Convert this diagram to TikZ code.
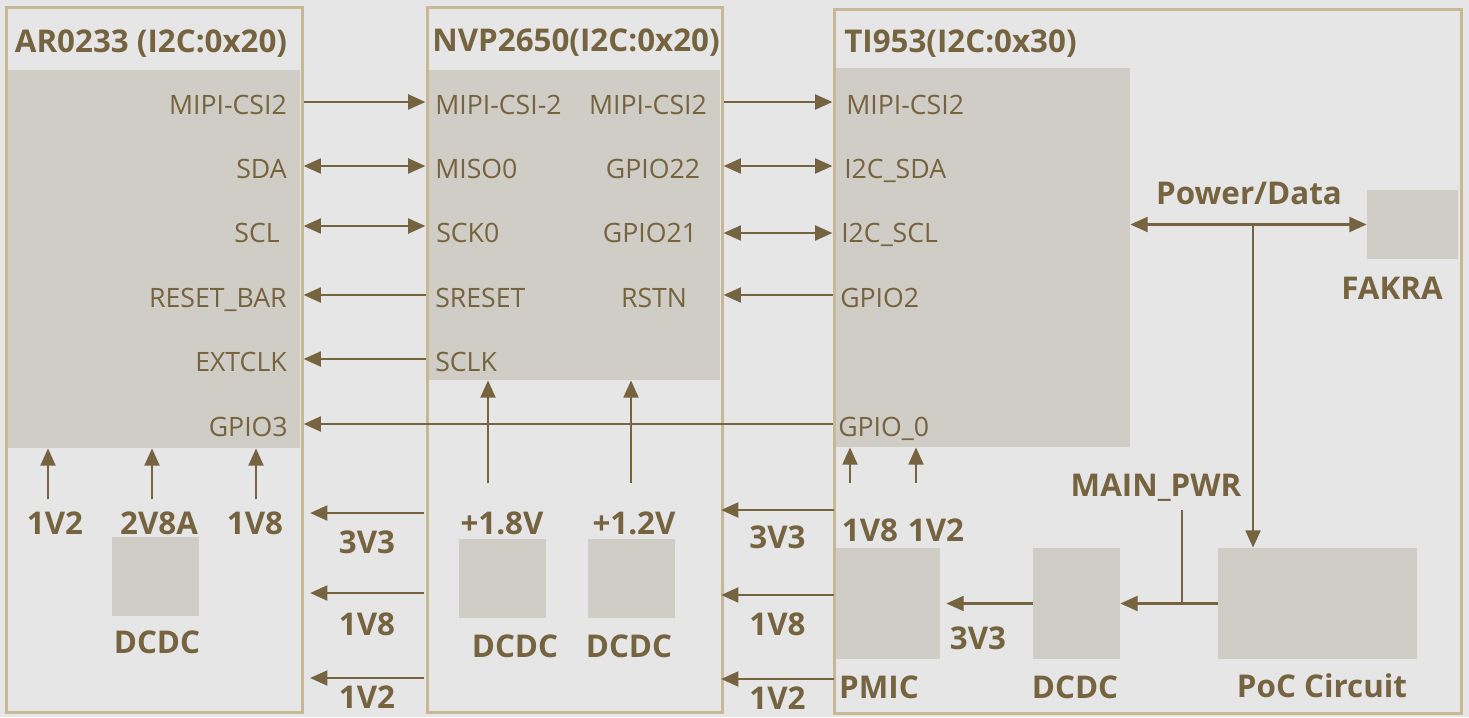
\documentclass[tikz,border=0pt]{standalone}
\usepackage{fontspec}
\setmainfont{Open Sans}
\usetikzlibrary{arrows.meta,fit,calc,positioning}
\definecolor{bgc}{HTML}{E6E6E6}
\definecolor{tan}{HTML}{C9B896}
\definecolor{chip}{HTML}{D0CDC6}
\definecolor{ink}{HTML}{76633F}
\tikzset{
  box/.style={draw=tan, line width=2.25pt, inner sep=0pt},
  pad/.style={fill=chip, inner sep=0pt},
  lbl/.style={text=ink, font=\fontsize{20}{24}\selectfont, inner sep=0pt,
    text height=19pt, text depth=0pt},
  blbl/.style={text=ink, font=\fontsize{23.5}{28}\selectfont\bfseries, inner sep=0pt,
    text height=17pt, text depth=0pt},
  wire/.style={draw=ink, line width=2.2pt},
  arr/.style={wire, -{Triangle[length=13pt,width=11pt]}},
  darr/.style={wire, {Triangle[length=13pt,width=11pt]}-{Triangle[length=13pt,width=11pt]}}
}
\begin{document}
\begin{tikzpicture}[x=0.75pt,y=-0.75pt]

  \useasboundingbox (0,0) rectangle (1469,717);
  \fill[bgc] (0,0) rectangle (1469,717);

  % chips
  \node[pad, fit={(8,70) (300,448)}] (Ain) {};
  \node[pad, fit={(429,70) (720,380)}] (Nin) {};
  \node[pad, fit={(836,68) (1130,447)}] (Tin) {};
  \node[box, fit={(6,8) (302,712)}] (A) {};
  \node[box, fit={(427,8) (722,712)}] (N) {};
  \node[box, fit={(834,10) (1461,713)}] (T) {};

  \node[blbl] (Atitle) at (151,41) {AR0233 (I2C:0x20)};
  \node[blbl] (Ntitle) at (576,40) {NVP2650(I2C:0x20)};
  \node[blbl, anchor=west] (Ttitle) at (844,41) {TI953(I2C:0x30)};

  % small blocks
  \node[pad, fit={(112,537) (199,616)}] (adc) {};
  \node[pad, fit={(459,539) (546,618)}] (ndc1) {};
  \node[pad, fit={(588,539) (675,618)}] (ndc2) {};
  \node[pad, fit={(1367,190) (1458,259)}] (fak) {};
  \node[pad, fit={(836,548) (940,659)}] (pmic) {};
  \node[pad, fit={(1033,548) (1120,659)}] (tdc) {};
  \node[pad, fit={(1218,548) (1417,659)}] (poc) {};

  \node[blbl] (adcL) at (157,642) {DCDC};
  \node[blbl] (ndc1L) at (515,646) {DCDC};
  \node[blbl] (ndc2L) at (629,646) {DCDC};
  \node[blbl] (fakL) at (1392,288) {FAKRA};
  \node[blbl] (pmicL) at (879,687) {PMIC};
  \node[blbl] (tdcL) at (1075,687) {DCDC};
  \node[blbl] (pocL) at (1322,686) {PoC Circuit};

  % pins
  \node[lbl, anchor=east] (aMipi) at (287,102) {MIPI-CSI2};
  \node[lbl, anchor=east] (aSda) at (287,166) {SDA};
  \node[lbl, anchor=east] (aScl) at (280,230) {SCL};
  \node[lbl, anchor=east] (aRst) at (287,295) {RESET\_BAR};
  \node[lbl, anchor=east] (aClk) at (287,359) {EXTCLK};
  \node[lbl, anchor=east] (aGpio) at (288,424) {GPIO3};

  \node[lbl, anchor=west] (nMipi) at (435,102) {MIPI-CSI-2};
  \node[lbl, anchor=west] (nMiso) at (435,166) {MISO0};
  \node[lbl, anchor=west] (nSck) at (436,230) {SCK0};
  \node[lbl, anchor=west] (nSrst) at (435,295) {SRESET};
  \node[lbl, anchor=west] (nSclk) at (435,359) {SCLK};
  \node[lbl] (nMipiO) at (648,102) {MIPI-CSI2};
  \node[lbl] (nG22) at (653,166) {GPIO22};
  \node[lbl] (nG21) at (650,230) {GPIO21};
  \node[lbl] (nRstn) at (654,295) {RSTN};

  \node[lbl, anchor=west] (tMipi) at (846,102) {MIPI-CSI2};
  \node[lbl, anchor=west] (tSda) at (844,166) {I2C\_SDA};
  \node[lbl, anchor=west] (tScl) at (841,230) {I2C\_SCL};
  \node[lbl, anchor=west] (tGpio2) at (840,295) {GPIO2};
  \node[lbl, anchor=west] (tGpio0) at (838,424) {GPIO\_0};

  \draw[arr] (aMipi -| A.east) -- (nMipi -| N.west);
  \draw[darr] (aSda -| A.east) -- (nMiso -| N.west);
  \draw[darr] ($(aScl -| A.east)+(0,-4)$) -- ($(nSck -| N.west)+(0,-4)$);
  \draw[arr] (nSrst -| N.west) -- (aRst -| A.east);
  \draw[arr] (nSclk -| N.west) -- (aClk -| A.east);
  \draw[arr] (tGpio0 -| T.west) -- (aGpio -| A.east);
  \draw[arr] (nMipiO -| N.east) -- (tMipi -| T.west);
  \draw[darr] (nG22 -| N.east) -- (tSda -| T.west);
  \draw[darr] ($(nG21 -| N.east)+(0,3)$) -- ($(tScl -| T.west)+(0,3)$);
  \draw[arr] (tGpio2 -| T.west) -- (nRstn -| N.east);

  % supplies
  \node[blbl] (aV12) at (55,523) {1V2};
  \node[blbl] (aV28) at (159,523) {2V8A};
  \node[blbl] (aV18) at (255,523) {1V8};
  \node[blbl] (nV18) at (502,523) {+1.8V};
  \node[blbl] (nV12) at (634,523) {+1.2V};
  \node[blbl] (tV18) at (870,530) {1V8};
  \node[blbl] (tV12) at (936,530) {1V2};

  \coordinate (aS1) at (48,499);
  \coordinate (aS2) at (152,499);
  \coordinate (aS3) at (256,499);
  \coordinate (nS1) at (488,483);
  \coordinate (nS2) at (631,483);
  \coordinate (tS1) at (850,483);
  \coordinate (tS2) at (916,483);
  \foreach \s in {aS1,aS2,aS3}
    \draw[arr] (\s) -- (\s |- Ain.south);
  \foreach \s in {nS1,nS2}
    \draw[arr] (\s) -- (\s |- Nin.south);
  \foreach \s in {tS1,tS2}
    \draw[arr] (\s) -- (\s |- Tin.south);

  \coordinate (na1) at (424,513); \coordinate (na1e) at (310,513);
  \coordinate (na2) at (424,593); \coordinate (na2e) at (310,593);
  \coordinate (na3) at (424,678); \coordinate (na3e) at (310,678);
  \draw[arr] (na1) -- node[blbl, below=12pt] {3V3} (na1e);
  \draw[arr] (na2) -- node[blbl, below=14pt] {1V8} (na2e);
  \draw[arr] (na3) -- node[blbl, below=5pt] {1V2} (na3e);

  \coordinate (tn1) at (834,510); \coordinate (tn1e) at (721,510);
  \coordinate (tn2) at (834,595); \coordinate (tn2e) at (721,595);
  \coordinate (tn3) at (834,679); \coordinate (tn3e) at (721,679);
  \draw[arr] (tn1) -- node[blbl, below=10.5pt] {3V3} (tn1e);
  \draw[arr] (tn2) -- node[blbl, below=12.5pt] {1V8} (tn2e);
  \draw[arr] (tn3) -- node[blbl, below=4.5pt] {1V2} (tn3e);

  % power / data path
  \node[blbl] (pdL) at (1249,193) {Power/Data};
  \draw[darr] (Tin.east |- fak) -- (fak.west);
  \coordinate (pd) at (1253,224.5);
  \draw[arr] (pd) -- (pd |- poc.north);
  \draw[arr] (poc.west) -- (tdc.east);
  \node[blbl] (mpL) at (1156,485) {MAIN\_PWR};
  \coordinate (mp) at (1182,510);
  \draw[wire] (mp) -- (mp |- poc.west);
  \draw[arr, shorten >=4.5pt] (tdc.west) -- (pmic.east);
  \node[blbl] (pV33) at (978,638) {3V3};

\end{tikzpicture}
\end{document}
